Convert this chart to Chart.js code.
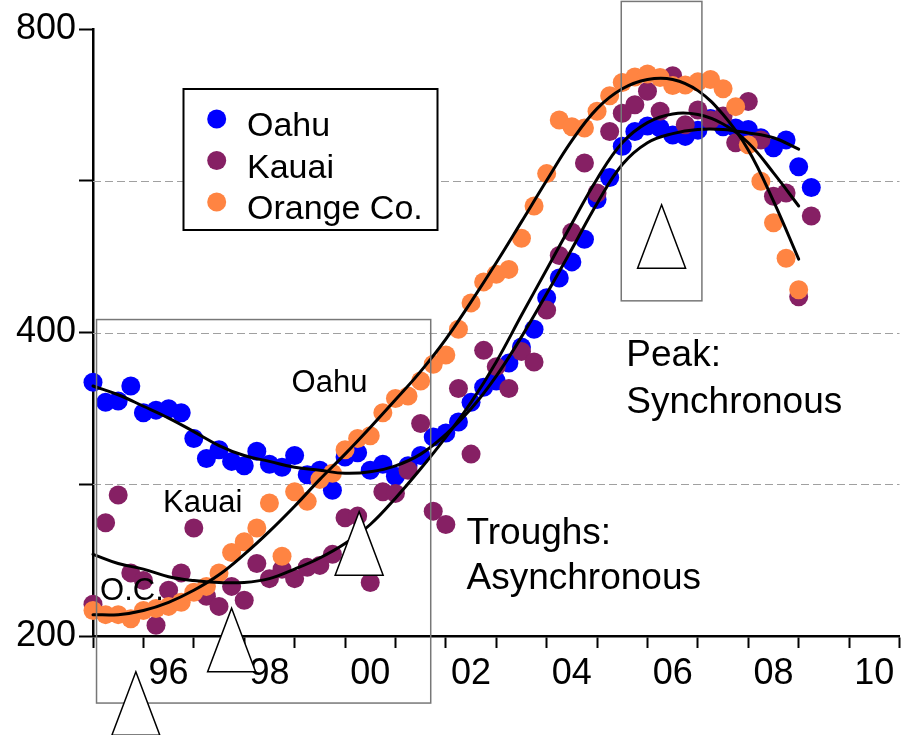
<!DOCTYPE html>
<html><head><meta charset="utf-8">
<script src="https://cdn.jsdelivr.net/npm/chart.js@4.4.0/dist/chart.umd.min.js"></script>
<style>html,body{margin:0;padding:0;background:#fff;}#wrap{width:909px;height:735px;}</style>
</head><body><div id="wrap"><canvas id="c" width="909" height="735"></canvas></div>
<script>
// ---- data (quarterly) ----
const quarters = [1995.00,1995.25,1995.50,1995.75,1996.00,1996.25,1996.50,1996.75,1997.00,1997.25,
  1997.50,1997.75,1998.00,1998.25,1998.50,1998.75,1999.00,1999.25,1999.50,1999.75,
  2000.00,2000.25,2000.50,2000.75,2001.00,2001.25,2001.50,2001.75,2002.00,2002.25,
  2002.50,2002.75,2003.00,2003.25,2003.50,2003.75,2004.00,2004.25,2004.50,2004.75,
  2005.00,2005.25,2005.50,2005.75,2006.00,2006.25,2006.50,2006.75,2007.00,2007.25,
  2007.50,2007.75,2008.00,2008.25,2008.50,2008.75,2009.00,2009.25];
const oahu = [357,341,342,354,333,335,336,333,314,300,306,298,295,305,296,294,302,289,292,279,
  301,304,292,296,288,295,302,315,318,326,341,353,358,373,387,403,433,453,470,495,
  542,570,612,633,641,638,628,626,635,652,640,638,636,624,610,621,584,557];
const kauai = [215,259,276,231,227,205,222,231,256,219,214,224,217,236,228,233,228,234,235,241,
  262,263,226,278,277,292,325,266,258,352,303,384,370,352,383,374,421,477,503,589,
  550,633,660,673,694,663,719,643,665,650,656,617,678,621,546,550,434,522];
const orangeCo = [212,210,210,208,212,213,214,216,221,224,231,242,248,256,271,240,278,272,286,290,
  306,314,316,333,344,346,358,372,380,403,428,449,457,462,496,534,575,650,640,638,
  663,687,708,717,722,716,703,704,709,713,698,670,614,565,514,474,441];
const seriesNames = ['Oahu','Kauai','Orange Co.'];

// fitted trend curves (half-year samples)
const fitYears = [1995,1995.5,1996,1996.5,1997,1997.5,1998,1998.5,1999,1999.5,2000,2000.5,2001,2001.5,
  2002,2002.5,2003,2003.5,2004,2004.5,2005,2005.5,2006,2006.5,2007,2007.5,2008,2008.5,2009];
const oahuFit = [354,347,338,329,319,309,302,298,294,292,290,291,295,303,317,336,362,396,437,484,
  537,587,617,630,636,636,631,624,608];
const kauaiFit = [241,236,233,229,227,226,226,228,233,239,247,258,274,293,315,341,374,416,462,513,
  568,617,646,659,658,644,617,576,534];
const orangeFit = [210,210,212,216,222,230,241,254,269,286,303,322,343,366,394,429,469,515,566,620,
  667,698,713,713,695,658,607,540,473];

// axis ticks
const yTickValues = [200,283,400,566,800];
const yLabelValues = [200,400,800];
const yLabelTexts = ['200','400','800'];
const yGridValues = [283,400,566];
const xTickYears = [1995,1996,1997,1998,1999,2000,2001,2002,2003,2004,2005,2006,2007,2008,2009,2010,2011];
const xLabelYears = [1996,1998,2000,2002,2004,2006,2008,2010];
const xTickLabels = ['96','98','00','02','04','06','08','10'];

// annotations (data coordinates)
const boxes = [
  {x0:1995.07, x1:2001.70, y0:171.6, y1:412},
  {x0:2005.48, x1:2007.08, y0:430, y1:852}
];
const triangles = [
  {x:2006.28, y:535.5},
  {x:2000.28, y:265.7},
  {x:1997.75, y:213.1},
  {x:1995.85, y:184.3}
];
const notes = [
  {text:'Oahu', x:1998.94, y:349, size:31},
  {text:'Kauai', x:1996.39, y:265.7, size:31},
  {text:'O.C.', x:1995.14, y:217.1, size:31},
  {text:'Peak:', x:2005.58, y:370.2, size:37},
  {text:'Synchronous', x:2005.58, y:332.7, size:37},
  {text:'Troughs:', x:2002.41, y:246.6, size:37},
  {text:'Asynchronous', x:2002.41, y:222.5, size:37}
];

const COLORS = ['#0000ff','#862064','#ff8442'];
const FONT = '"Liberation Sans", Arial, Helvetica, sans-serif';

function pts(xs, ys){ return ys.map((v,i)=>({x:xs[i], y:v})); }

const annotPlugin = {
  id:'annot',
  beforeDatasetsDraw(chart){
    const {ctx, chartArea:a, scales:{y}} = chart;
    ctx.save();
    ctx.strokeStyle = '#a0a0a0'; ctx.lineWidth = 1; ctx.setLineDash([8,4]);
    yGridValues.forEach(v=>{
      const py = Math.round(y.getPixelForValue(v))+0.5;
      ctx.beginPath(); ctx.moveTo(a.left, py); ctx.lineTo(a.right, py); ctx.stroke();
    });
    ctx.restore();
  },
  afterDraw(chart){
    const {ctx, scales:{x,y}} = chart;
    ctx.save();
    // boxes
    ctx.strokeStyle = '#777'; ctx.lineWidth = 1.5; ctx.setLineDash([]);
    boxes.forEach(b=>{
      const x0=x.getPixelForValue(b.x0), x1=x.getPixelForValue(b.x1);
      const y0=y.getPixelForValue(b.y0), y1=y.getPixelForValue(b.y1);
      ctx.strokeRect(x0, y1, x1-x0, y0-y1);
    });
    // triangles
    ctx.strokeStyle = '#000'; ctx.fillStyle = '#fff'; ctx.lineWidth = 1.5;
    triangles.forEach(t=>{
      const px=x.getPixelForValue(t.x), py=y.getPixelForValue(t.y);
      ctx.beginPath(); ctx.moveTo(px, py); ctx.lineTo(px+24, py+63.5); ctx.lineTo(px-24, py+63.5); ctx.closePath();
      ctx.fill(); ctx.stroke();
    });
    // notes
    ctx.fillStyle = '#000'; ctx.textAlign = 'left'; ctx.textBaseline = 'alphabetic';
    notes.forEach(n=>{
      ctx.font = n.size + 'px ' + FONT;
      ctx.fillText(n.text, x.getPixelForValue(n.x), y.getPixelForValue(n.y));
    });
    // legend
    ctx.fillStyle = '#fff'; ctx.fillRect(183.5, 89, 254, 141);
    ctx.strokeStyle = '#000'; ctx.lineWidth = 2; ctx.strokeRect(183.5, 89, 254, 141);
    ctx.font = '34px ' + FONT;
    const ds = chart.data.datasets.filter(d=>d.isSeries);
    ds.forEach((d,i)=>{
      const cy = 119 + i*41.5;
      ctx.fillStyle = d.backgroundColor;
      ctx.beginPath(); ctx.arc(216.7, cy, 9.5, 0, Math.PI*2); ctx.fill();
      ctx.fillStyle = '#000';
      ctx.fillText(d.label, 247, cy + 17);
    });
    ctx.restore();
  }
};

const seriesDs = (label, data, color, order) => ({
  label, data: pts(quarters, data), isSeries:true,
  backgroundColor: color, borderColor: color, pointRadius: 9.5, pointHoverRadius: 9.5,
  pointBorderWidth: 0, showLine:false, clip:false, order
});
const fitDs = (data) => ({
  type:'line', label:'fit', data: pts(fitYears, data), borderColor:'#000', borderWidth:3,
  pointRadius:0, pointHoverRadius:0, fill:false, tension:0.4, clip:false, order:0,
  borderCapStyle:'round', borderJoinStyle:'round'
});

new Chart(document.getElementById('c'), {
  type:'scatter',
  data:{ datasets:[
    seriesDs(seriesNames[0], oahu, COLORS[0], 3),
    seriesDs(seriesNames[1], kauai, COLORS[1], 2),
    seriesDs(seriesNames[2], orangeCo, COLORS[2], 1),
    fitDs(oahuFit), fitDs(kauaiFit), fitDs(orangeFit)
  ]},
  options:{
    responsive:false, animation:false, devicePixelRatio:1,
    layout:{padding:{top:29, right:6, left:0, bottom:0}},
    plugins:{legend:{display:false}, tooltip:{enabled:false}},
    scales:{
      x:{
        type:'linear', min:1995, max:2011, z:1,
        afterBuildTicks(s){
          const t=[]; xTickYears.forEach(v=>t.push({value:v}));
          xLabelYears.forEach(v=>t.push({value:v+0.5}));
          t.sort((a,b)=>a.value-b.value); s.ticks=t;
        },
        afterFit(s){ s.height = 99; },
        grid:{ drawOnChartArea:false, tickLength:12, tickWidth:2,
          tickColor:(c)=> (c.tick && Number.isInteger(c.tick.value)) ? '#000' : 'rgba(0,0,0,0)' },
        border:{ color:'#000', width:2.5 },
        ticks:{ autoSkip:false, maxRotation:0, minRotation:0, padding:4, color:'#000',
          font:{ family:FONT, size:36 },
          callback:(v)=>{ const i = xLabelYears.indexOf(v-0.5); return i>=0 ? xTickLabels[i] : ''; } }
      },
      y:{
        type:'logarithmic', min:200, max:800, z:1,
        afterBuildTicks(s){ s.ticks = yTickValues.map(v=>({value:v})); },
        afterFit(s){ s.width = 93; },
        grid:{ drawOnChartArea:false, tickLength:14, tickWidth:2, tickColor:'#000' },
        border:{ color:'#000', width:2.5 },
        ticks:{ padding:3, color:'#000', font:{ family:FONT, size:36 },
          callback:(v)=>{ const i = yLabelValues.indexOf(v); return i>=0 ? yLabelTexts[i] : ''; } }
      }
    }
  },
  plugins:[annotPlugin]
});
</script>
</body></html>
